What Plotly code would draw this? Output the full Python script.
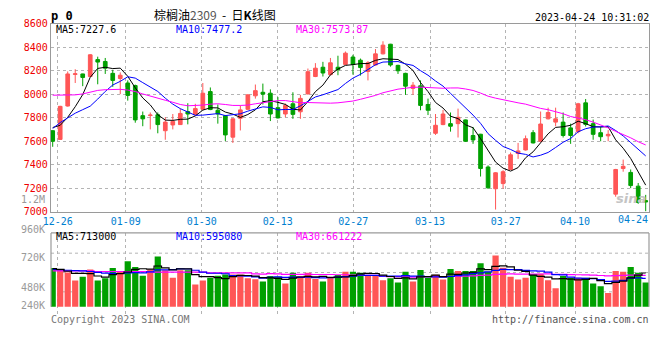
import plotly.graph_objects as go
import pandas as pd

# ---------------- data ----------------
opens = [7691, 7617, 7901, 8170, 8174, 8152, 8296, 8280, 8179, 8135,
         8097, 8075, 7819, 7820, 7827, 7691, 7740, 7743, 7854, 7827,
         7874, 8024, 7865, 7819, 7636, 7797, 7873, 7988, 8018, 8010,
         7887, 7833, 7920, 7852, 8004, 8152, 8231, 8168, 8231, 8255,
         8318, 8291, 8195, 8250, 8345, 8427, 8247, 8179, 8051, 8073,
         7914, 7669, 7743, 7751, 7751, 7783, 7650, 7661, 7382, 7197,
         7241, 7361, 7497, 7527, 7674, 7601, 7792, 7764, 7764, 7715,
         7683, 7928, 7751, 7674, 7647, 7151, 7369, 7336, 7219, 7096]
highs = [7695, 7903, 8195, 8214, 8176, 8343, 8321, 8310, 8209, 8187,
         8119, 8083, 7854, 7846, 7846, 7805, 7833, 7879, 7925, 7920,
         8097, 8059, 7914, 7825, 7797, 7906, 8000, 8084, 8092, 8043,
         7977, 7923, 8018, 7996, 8220, 8266, 8277, 8310, 8329, 8365,
         8337, 8305, 8283, 8386, 8452, 8430, 8252, 8184, 8105, 8119,
         7964, 7833, 7868, 7846, 7879, 7786, 7723, 7664, 7396, 7338,
         7355, 7505, 7587, 7650, 7696, 7854, 7887, 7887, 7846, 7751,
         7928, 7961, 7786, 7723, 7696, 7366, 7445, 7361, 7246, 7145]
lows = [7554, 7612, 7896, 8097, 8070, 8147, 8086, 8174, 8064, 8002,
        7947, 7759, 7729, 7702, 7669, 7614, 7702, 7740, 7745, 7822,
        7870, 7866, 7751, 7603, 7587, 7693, 7868, 7964, 7914, 7773,
        7795, 7805, 7792, 7792, 8000, 8147, 8152, 8163, 8163, 8250,
        8168, 8160, 8119, 8245, 8340, 8236, 8174, 7996, 7996, 7865,
        7824, 7655, 7738, 7683, 7633, 7596, 7579, 7301, 7197, 7020,
        7197, 7356, 7451, 7522, 7582, 7596, 7787, 7729, 7633, 7579,
        7669, 7727, 7614, 7601, 7601, 7129, 7342, 7202, 7069, 7006]
closes = [7601, 7898, 8174, 8175, 8144, 8337, 8275, 8223, 8119, 8163,
          7991, 7783, 7792, 7824, 7743, 7764, 7770, 7838, 7833, 7879,
          8010, 7871, 7833, 7655, 7792, 7868, 7996, 8032, 8002, 7833,
          7800, 7906, 7830, 7966, 8193, 8223, 8182, 8269, 8209, 8351,
          8255, 8228, 8269, 8345, 8419, 8250, 8201, 8070, 8078, 7906,
          7865, 7737, 7833, 7729, 7805, 7601, 7612, 7369, 7205, 7333,
          7342, 7486, 7519, 7623, 7587, 7748, 7846, 7792, 7650, 7650,
          7920, 7745, 7660, 7640, 7660, 7361, 7388, 7224, 7080, 7085]
volumes = [816000, 789000, 721000, 550000, 632000, 782000, 550000, 598000, 816000, 734000,
           958000, 836000, 652000, 782000, 1060000, 769000, 612000, 769000, 769000, 469000,
           550000, 612000, 652000, 679000, 679000, 679000, 598000, 577000, 530000, 646000,
           632000, 490000, 714000, 646000, 714000, 585000, 530000, 612000, 666000, 734000,
           734000, 714000, 666000, 646000, 557000, 598000, 510000, 734000, 530000, 775000,
           612000, 673000, 571000, 796000, 754000, 754000, 754000, 918000, 734000, 1081000,
           823000, 632000, 571000, 612000, 679000, 694000, 557000, 388000, 646000, 612000,
           612000, 612000, 490000, 428000, 286000, 754000, 734000, 836000, 714000, 510000]

# moving-average values before enough history exists
ma5_head = [7718, 7737, 7805, 7895]
ma10_head = [7710, 7760, 7800, 7840, 7870, 7900, 7960, 8025, 8080]
ma30_head = [7993, 7993, 7991, 7996, 8004, 8021, 8034, 8040, 8043, 8043,
             8037, 8024, 8004, 7988, 7969, 7950, 7933, 7914, 7903, 7903,
             7909, 7917, 7920, 7914, 7906, 7906, 7909, 7920, 7928]
vma5_head = [801000, 788000, 747000, 700000]
vma10_head = [788000, 781000, 768000, 761000, 754000, 741000, 721000, 707000, 700000]
vma30_head = [754000] * 6 + [741000] * 7 + [727000] * 8 + [714000] * 6 + [693000, 688000]

date_labels = ['12-26', '01-09', '01-30', '02-13', '02-27', '03-13', '03-27', '04-10', '04-24']
price_ticks = [7000, 7200, 7400, 7600, 7800, 8000, 8200, 8400, 8600]
vol_labels = ['960K', '720K', '480K', '240K']
NB = '\u00a0'
title_text = ('棕榈油<span style="color:#555555">2309</span>' + NB * 2 + '-' + NB * 2
              + '日<b>K</b>线图')
stamp_text = '2023-04-24 10:31:02'
ma_price_text = ['MA5:7227.6', 'MA10:7477.2', 'MA30:7573.87']
ma_vol_text = ['MA5:713000', 'MA10:595080', 'MA30:661222']


def moving(values, n, head):
    s = pd.Series(values, dtype=float).rolling(n).mean()
    s.iloc[:len(head)] = head
    return s.tolist()


idx = list(range(len(closes)))
ma5 = moving(closes, 5, ma5_head)
ma10 = moving(closes, 10, ma10_head)
ma30 = moving(closes, 30, ma30_head)
vma5 = moving(volumes, 5, vma5_head)
vma10 = moving(volumes, 10, vma10_head)
vma30 = moving(volumes, 30, vma30_head)

# ---------------- styling / layout constants ----------------
W, H = 660, 360
L, R = 51, 649
RED = '#ff5656'
GREEN = '#00a000'
MONO = 'DejaVu Sans Mono'
CJK = 'Noto Sans CJK SC'
GRID = '#b4b4b4'
BORDER = '#9a9a9a'
XR = [-0.226, 79.44]
grid_pos = [0.667, 9.726, 19.851, 29.977, 40.048, 50.267, 60.352, 69.585]


def py(p):
    return 1 - p / H


def px(p):
    return (p - L) / (R - L)


vol_colors = [RED if c > o else GREEN for o, c in zip(opens, closes)]

fig = go.Figure()
fig.add_trace(go.Candlestick(
    x=idx, open=opens, high=highs, low=lows, close=closes,
    increasing=dict(line=dict(color=RED, width=1), fillcolor=RED),
    decreasing=dict(line=dict(color=GREEN, width=1), fillcolor=GREEN),
    whiskerwidth=0, hoverinfo='skip', xaxis='x', yaxis='y'))
for vals, col in [(ma5, '#000000'), (ma10, '#0000ff'), (ma30, '#ff00ff')]:
    fig.add_trace(go.Scatter(x=idx, y=vals, mode='lines', line=dict(color=col, width=1),
                             hoverinfo='skip', xaxis='x', yaxis='y'))

fig.add_trace(go.Bar(x=idx, y=volumes, marker=dict(color=vol_colors, line=dict(width=0)),
                     width=0.83, hoverinfo='skip', xaxis='x2', yaxis='y2'))
for vals, col in [(vma30, '#ff00ff'), (vma10, '#0000ff'), (vma5, '#000000')]:
    fig.add_trace(go.Scatter(x=idx, y=vals, mode='lines', line=dict(color=col, width=1.2, shape='hvh'),
                             hoverinfo='skip', xaxis='x2', yaxis='y2'))

shapes = []
# volume panel border (top, left, right)
for (x0, y0, x1, y1) in [(0, 234.7, 1, 234.7), (0, 234.7, 0, 311), (1, 234.7, 1, 311)]:
    shapes.append(dict(type='line', xref='paper', yref='paper', x0=x0, x1=x1, y0=py(y0), y1=py(y1),
                       line=dict(color=BORDER, width=1.2)))
for yy in [255.7, 275.7, 295.7]:
    shapes.append(dict(type='line', xref='paper', yref='paper', x0=0, x1=1, y0=py(yy), y1=py(yy),
                       line=dict(color=GRID, width=1, dash='dot'), layer='below'))

annotations = []


def ann(text, x, y, color, xanchor='left', size=10, family=MONO):
    annotations.append(dict(text=text, xref='paper', yref='paper', x=px(x), y=py(y),
                            xanchor=xanchor, yanchor='middle', showarrow=False,
                            font=dict(family=family, size=size, color=color)))


ann('<b>p 0</b>', 49, 10, '#000000', size=12)
ann(title_text, 215, 9, '#000000', xanchor='center', size=12, family=CJK)
ann(stamp_text, 651, 12, '#000000', xanchor='right')
for t, x, c in zip(ma_price_text, [54, 174, 294], ['#000000', '#0000ff', '#ff00ff']):
    ann(t, x, 24, c)
for t, x, c in zip(ma_vol_text, [54, 174, 294], ['#000000', '#0000ff', '#ff00ff']):
    ann(t, x, 238, c)
ann('1.2M', 47, 200, '#999999', xanchor='right')
for t, y in zip(vol_labels, [231, 260, 291, 310]):
    ann(t, 47, y, '#999999', xanchor='right')
ann(date_labels[-1], 650, 221, '#0080d0', xanchor='right')
ann('Copyright 2023 SINA.COM', 49, 324, '#777777')
ann('http://finance.sina.com.cn', 651, 324, '#555555', xanchor='right')
ann('<b><i>sina</i></b>', 631, 199, '#c4c4c4', xanchor='center', size=13, family='DejaVu Sans')

fig.update_layout(
    width=W, height=H, margin=dict(l=L, r=W - R, t=0, b=0),
    paper_bgcolor='white', plot_bgcolor='white', showlegend=False,
    xaxis=dict(domain=[0, 1], range=XR, anchor='y', tickvals=grid_pos, ticktext=date_labels[:-1],
               tickfont=dict(family=MONO, size=10, color='#0080d0'), ticks='',
               showgrid=True, gridcolor=GRID, griddash='dot', gridwidth=1,
               showline=True, mirror=True, linecolor=BORDER, linewidth=1.2,
               zeroline=False, rangeslider=dict(visible=False), fixedrange=True),
    yaxis=dict(domain=[py(213), py(18.5)], range=[7000, 8600], anchor='x', tickvals=price_ticks,
               tickfont=dict(family=MONO, size=10, color='#ee0000'), ticks='',
               showgrid=True, gridcolor=GRID, griddash='dot', gridwidth=1,
               showline=True, mirror=True, linecolor=BORDER, linewidth=1.2,
               zeroline=False, fixedrange=True),
    xaxis2=dict(domain=[0, 1], range=XR, anchor='y2', tickvals=grid_pos, showticklabels=False,
                ticks='', showgrid=True, gridcolor=GRID, griddash='dot', gridwidth=1,
                showline=False, zeroline=False, fixedrange=True),
    yaxis2=dict(domain=[py(320), py(234.7)], range=[-183600, 1556500], anchor='x2',
                showticklabels=False, ticks='', showgrid=False, showline=False,
                zeroline=False, fixedrange=True),
    shapes=shapes, annotations=annotations,
)

fig.write_html('out.html', config={'displayModeBar': False},
               post_script="document.body.style.margin='0';document.body.style.overflow='hidden';")
